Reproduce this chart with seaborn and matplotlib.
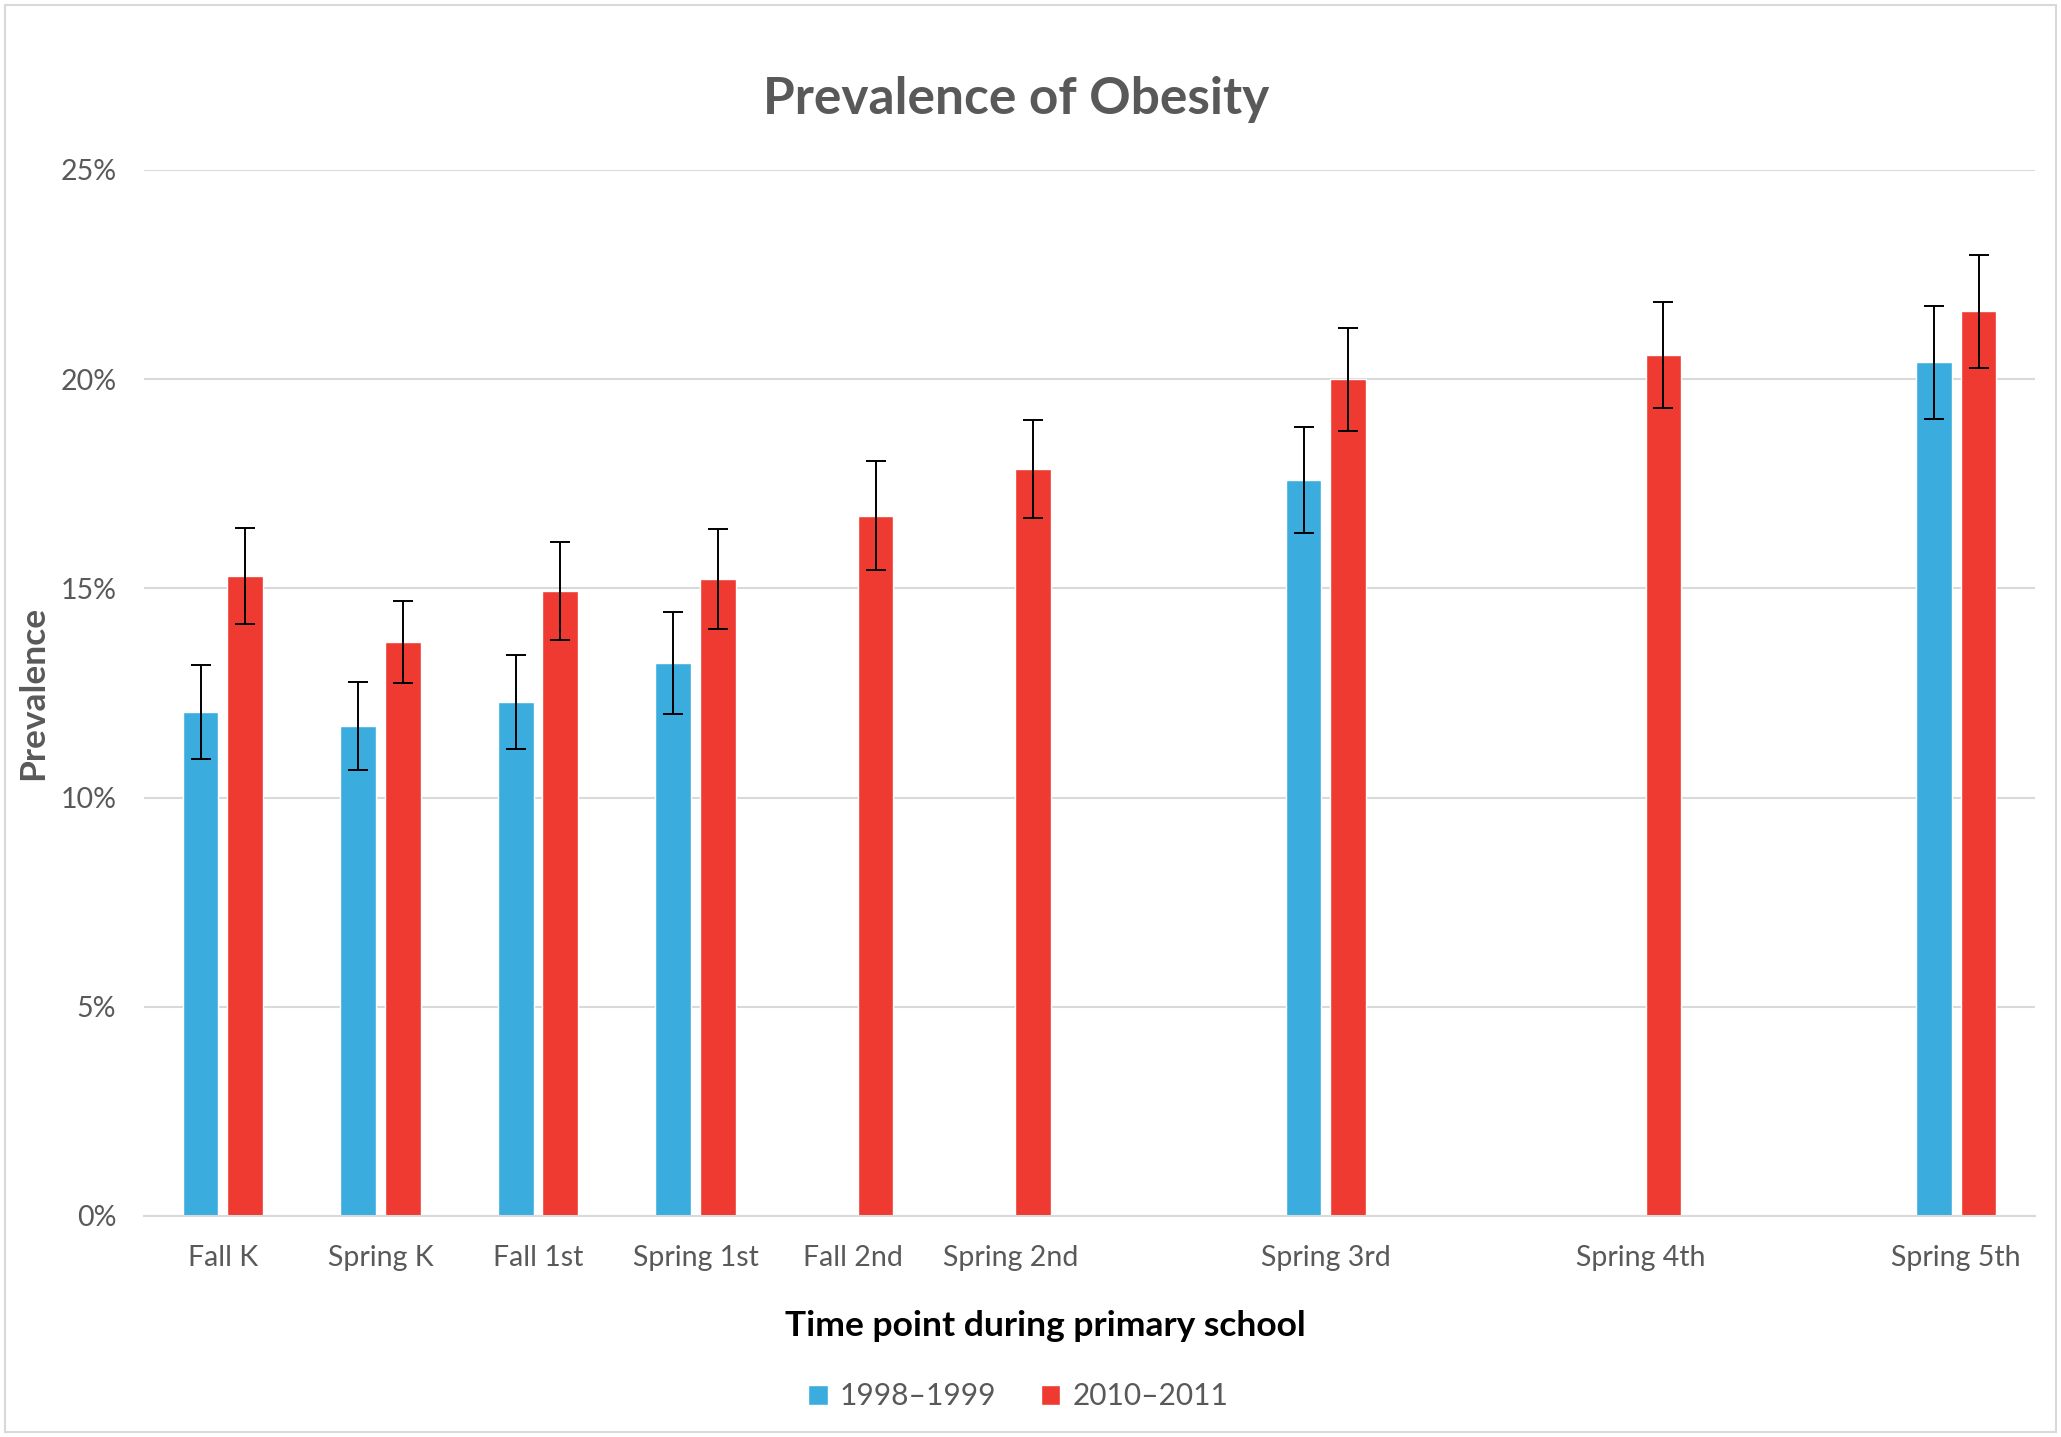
import matplotlib
matplotlib.use("Agg")
import matplotlib.pyplot as plt
import numpy as np
import pandas as pd
import seaborn as sns
from matplotlib.patches import Rectangle
from matplotlib.ticker import PercentFormatter

# every half-year term; fall 3rd-5th were not surveyed
all_terms = ["Fall K", "Spring K", "Fall 1st", "Spring 1st", "Fall 2nd", "Spring 2nd",
             "Fall 3rd", "Spring 3rd", "Fall 4th", "Spring 4th", "Fall 5th", "Spring 5th"]

time_points = ["Fall K", "Spring K", "Fall 1st", "Spring 1st", "Fall 2nd",
               "Spring 2nd", "Spring 3rd", "Spring 4th", "Spring 5th"]
cohorts = ["1998\u20131999", "2010\u20132011"]

prev_1998 = [12.04, 11.71, 12.28, 13.22, np.nan, np.nan, 17.59, np.nan, 20.40]
err_1998 = [1.12, 1.05, 1.13, 1.22, np.nan, np.nan, 1.27, np.nan, 1.36]
prev_2010 = [15.30, 13.73, 14.93, 15.22, 16.74, 17.85, 20.00, 20.58, 21.62]
err_2010 = [1.15, 0.98, 1.17, 1.20, 1.30, 1.17, 1.23, 1.26, 1.35]

colors = ["#3AADDE", "#EE3A30"]

df = pd.concat([
    pd.DataFrame({"term": time_points, "cohort": cohorts[0], "prevalence": prev_1998, "err": err_1998}),
    pd.DataFrame({"term": time_points, "cohort": cohorts[1], "prevalence": prev_2010, "err": err_2010}),
]).dropna()

sns.set_theme(style="white")
plt.rcParams["font.family"] = ["Lato", "DejaVu Sans"]

fig = plt.figure(figsize=(20.61, 14.37), dpi=100)
ax = fig.add_axes([0.0699, 0.1538, 0.9175, 0.7279])

sns.barplot(data=df, x="term", y="prevalence", hue="cohort", order=all_terms,
            hue_order=cohorts, palette=colors, width=0.567, gap=0.2,
            errorbar=None, saturation=1, ax=ax)

# error bars on top of the bars seaborn placed
for cohort, cont in zip(cohorts, ax.containers):
    sub = df[df["cohort"] == cohort].set_index("term")
    for p in cont:
        h = p.get_height()
        if np.isnan(h) or h == 0:
            continue
        cx = p.get_x() + p.get_width() / 2
        term = all_terms[int(round(cx))]
        if term not in sub.index:
            continue
        ax.errorbar(cx, sub.loc[term, "prevalence"], yerr=sub.loc[term, "err"],
                    fmt="none", ecolor="black", elinewidth=1.4, capsize=7, capthick=1.4)

ax.set_xlim(-0.5, 11.5)
ax.set_ylim(0, 25)
ax.set_yticks([0, 5, 10, 15, 20, 25])
ax.yaxis.set_major_formatter(PercentFormatter(decimals=0))
ax.set_xticks(range(len(all_terms)))
ax.set_xticklabels([t if t in time_points else "" for t in all_terms])
ax.tick_params(axis="x", length=0, pad=21, labelsize=20.5, labelcolor="#595959")
ax.tick_params(axis="y", length=0, pad=20, labelsize=20.5, labelcolor="#595959")
ax.grid(axis="y", color="#D9D9D9", linewidth=1.5)
ax.set_axisbelow(True)
for s in ["top", "right", "left"]:
    ax.spines[s].set_visible(False)
ax.spines["bottom"].set_color("#D9D9D9")
ax.spines["bottom"].set_linewidth(1.5)

ax.set_xlabel("")
ax.set_ylabel("Prevalence", fontsize=25.5, fontweight="bold", color="#595959", labelpad=8)
fig.text(0.493, 0.931, "Prevalence of Obesity", fontsize=37, fontweight="bold",
         color="#595959", ha="center", va="center")
fig.text(0.507, 0.0775, "Time point during primary school", fontsize=25.5,
         fontweight="bold", color="black", ha="center", va="center")

handles, labels = ax.get_legend_handles_labels()
ax.legend(handles, labels, loc="center", bbox_to_anchor=(0.494, 0.0285),
          bbox_transform=fig.transFigure, ncol=2, frameon=False, fontsize=21.5,
          labelcolor="#595959", handlelength=0.65, handleheight=0.65,
          handletextpad=0.4, columnspacing=1.5)

fig.add_artist(Rectangle((0.0025, 0.0035), 0.995, 0.993, transform=fig.transFigure,
                         fill=False, edgecolor="#D9D9D9", linewidth=1.5))

fig.savefig("out.png", dpi=100)
